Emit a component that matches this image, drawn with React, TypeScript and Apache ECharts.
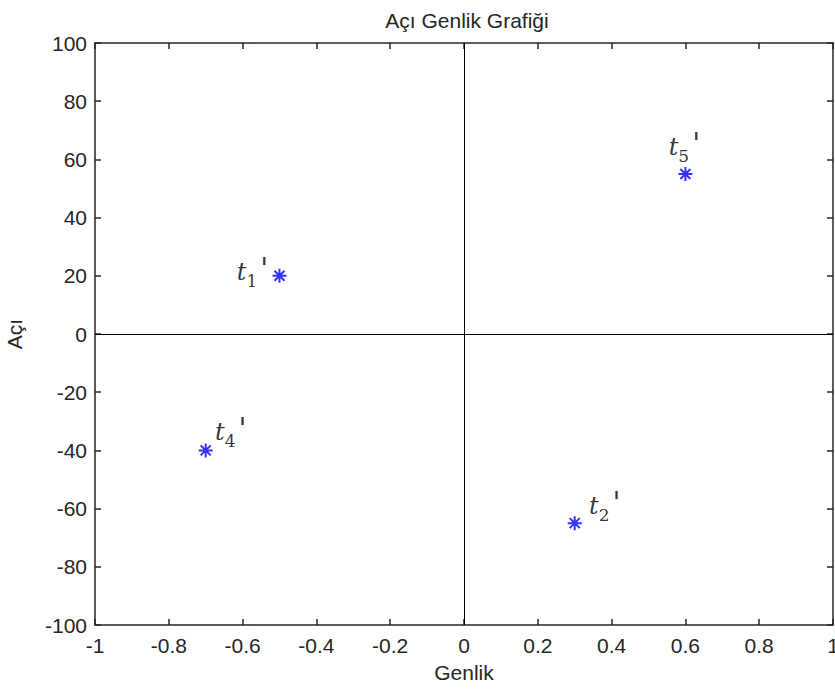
import React, { useEffect, useRef } from "react";
import * as echarts from "echarts";

const pointNames = ["1", "2", "4", "5"];
const genlik = [-0.5, 0.3, -0.7, 0.6];
const aci = [20, -65, -40, 55];
const labelOffsets: [number, number][] = [[-27, -4], [30, -17], [25, -18], [-1, -27]];

const xTicks = { min: -1, max: 1, interval: 0.2 };
const yTicks = { min: -100, max: 100, interval: 20 };

const AXIS_COLOR = "#262626";
const FONT = "'Liberation Sans', Arial, sans-serif";
const SERIF = "'DejaVu Serif', 'Liberation Serif', serif";

export default function App() {
  const ref = useRef<HTMLDivElement>(null);
  useEffect(() => {
    const chart = echarts.init(ref.current!, null, { renderer: "svg" });
    const axisCommon = {
      axisLine: { onZero: false, lineStyle: { color: AXIS_COLOR, width: 1.5 } },
      axisTick: { inside: true, length: 6, lineStyle: { color: AXIS_COLOR, width: 1.5 } },
      splitLine: { show: false },
    };
    const data = genlik.map((x, i) => ({
      value: [x, aci[i]],
      label: {
        show: true,
        position: "inside",
        offset: labelOffsets[i],
        formatter: `{t|t}{s|${pointNames[i]}}{p|'}`,
        rich: {
          t: { fontFamily: SERIF, fontStyle: "italic", fontSize: 24, color: "#000", verticalAlign: "middle" },
          s: { fontFamily: SERIF, fontSize: 17, color: "#000", verticalAlign: "bottom", padding: [12, 0, 0, 0] },
          p: { fontFamily: SERIF, fontStyle: "italic", fontSize: 29, color: "#000", verticalAlign: "top", padding: [0, 0, 6, 3] },
        },
      },
    }));
    chart.setOption({
      animation: false,
      backgroundColor: "#fff",
      title: {
        text: "Açı Genlik Grafiği",
        left: 462,
        textAlign: "center",
        top: 5,
        textStyle: { fontFamily: FONT, fontSize: 21, fontWeight: "normal", color: AXIS_COLOR },
      },
      grid: { left: 95, right: 2, top: 43, bottom: 64, containLabel: false, outerBoundsMode: "none" },
      xAxis: [
        {
          type: "value",
          ...xTicks,
          ...axisCommon,
          name: "Genlik",
          nameLocation: "middle",
          nameGap: 37,
          nameTextStyle: { fontFamily: FONT, fontSize: 21, color: AXIS_COLOR },
          axisLabel: { fontFamily: FONT, fontSize: 21, color: AXIS_COLOR, margin: 10, formatter: (v: number) => String(Math.round(v * 10) / 10) },
        },
        {
          type: "value",
          position: "top",
          ...xTicks,
          ...axisCommon,
          axisLabel: { show: false },
        },
      ],
      yAxis: [
        {
          type: "value",
          ...yTicks,
          ...axisCommon,
          name: "Açı",
          nameLocation: "middle",
          nameGap: 70,
          nameRotate: 90,
          nameTextStyle: { fontFamily: FONT, fontSize: 21, color: AXIS_COLOR },
          axisLabel: { fontFamily: FONT, fontSize: 21, color: AXIS_COLOR, margin: 8 },
        },
        {
          type: "value",
          position: "right",
          ...yTicks,
          ...axisCommon,
          axisLabel: { show: false },
        },
      ],
      series: [
        {
          type: "scatter",
          data,
          symbol: "path://M-6 0L6 0M0 -6L0 6M-4.3 -4.3L4.3 4.3M-4.3 4.3L4.3 -4.3",
          symbolSize: 14,
          itemStyle: { color: "rgba(0,0,0,0)", borderColor: "#0000ff", borderWidth: 2 },
          markLine: {
            silent: true,
            symbol: "none",
            label: { show: false },
            lineStyle: { color: "#000", width: 1, type: "solid" },
            data: [{ xAxis: 0 }, { yAxis: 0 }],
          },
        },
      ],
    });
    return () => chart.dispose();
  }, []);
  return <div ref={ref} style={{ width: 835, height: 689, position: "absolute", left: 0, top: 0 }} />;
}
